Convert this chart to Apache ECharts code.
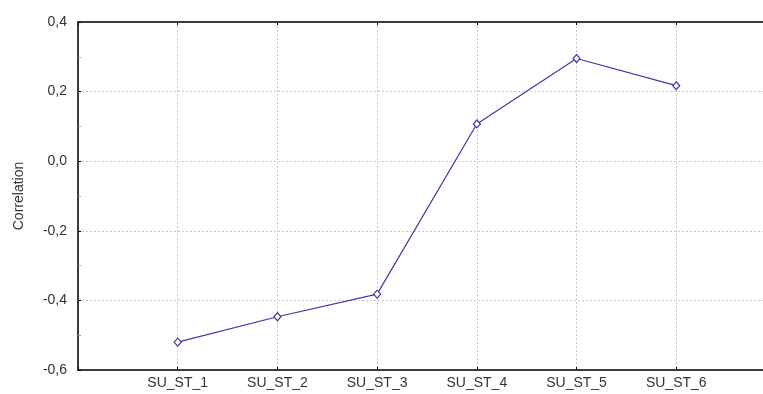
<!DOCTYPE html>
<html>
<head>
<meta charset="utf-8">
<script src="https://cdn.jsdelivr.net/npm/echarts@6/dist/echarts.min.js"></script>
<style>
  html, body { margin: 0; padding: 0; background: #fff; }
  #chart { width: 763px; height: 394px; }
</style>
</head>
<body>
<div id="chart"></div>
<script>
// Station names along the horizontal axis
const categories = ['SU_ST_1', 'SU_ST_2', 'SU_ST_3', 'SU_ST_4', 'SU_ST_5', 'SU_ST_6'];
// Correlation per station
const correlation = [-0.52, -0.447, -0.382, 0.107, 0.295, 0.217];
// Y tick values
const yTicks = [-0.6, -0.4, -0.2, 0.0, 0.2, 0.4];

// Stations sit at positions 1..n on a numeric x scale
const points = categories.map((c, i) => [i + 1, correlation[i]]);

const fmtY = v => v.toFixed(1).replace('.', ',');
const fmtX = v => (Number.isInteger(v) && v >= 1 && v <= categories.length) ? categories[v - 1] : '';

const gridLine = { show: true, lineStyle: { color: '#c8c8c8', type: [2, 2], width: 1 } };
const tickStyle = { show: true, inside: true, length: 3, lineStyle: { color: '#000' } };

const chart = echarts.init(document.getElementById('chart'), null, { renderer: 'canvas' });
chart.setOption({
  animation: false,
  backgroundColor: '#ffffff',
  textStyle: { fontFamily: 'Liberation Sans, Arial, sans-serif' },
  grid: { left: 78, right: 0, top: 22, bottom: 24, containLabel: false },
  xAxis: [
    {
      type: 'value', min: 0, max: 6.87, interval: 1,
      axisLine: { show: true, onZero: false, lineStyle: { color: '#000', width: 1.5 } },
      axisTick: tickStyle,
      axisLabel: { formatter: fmtX, color: '#333', fontSize: 14, margin: 6, showMaxLabel: false },
      splitLine: gridLine
    },
    {
      type: 'value', position: 'top', min: 0, max: 6.87, interval: 1,
      axisLine: { show: true, onZero: false, lineStyle: { color: '#000', width: 1.5 } },
      axisTick: tickStyle,
      axisLabel: { show: false },
      splitLine: { show: false }
    }
  ],
  yAxis: {
    type: 'value', min: yTicks[0], max: yTicks[yTicks.length - 1], interval: 0.2,
    name: 'Correlation', nameLocation: 'middle', nameGap: 52, nameRotate: 90,
    nameTextStyle: { color: '#333', fontSize: 14 },
    axisLine: { show: true, onZero: false, lineStyle: { color: '#000', width: 1.5 } },
    axisTick: tickStyle,
    minorTick: { show: true, splitNumber: 2, length: 3, lineStyle: { color: '#999' } },
    axisLabel: { formatter: fmtY, color: '#333', fontSize: 14, margin: 11 },
    splitLine: gridLine
  },
  series: [{
    type: 'line',
    data: points,
    xAxisIndex: 0,
    symbol: 'diamond',
    symbolSize: [7, 8],
    lineStyle: { color: '#3a3aa8', width: 1.2 },
    itemStyle: { color: '#ffffff', borderColor: '#3a3aa8', borderWidth: 1.2 }
  }]
});
</script>
</body>
</html>
